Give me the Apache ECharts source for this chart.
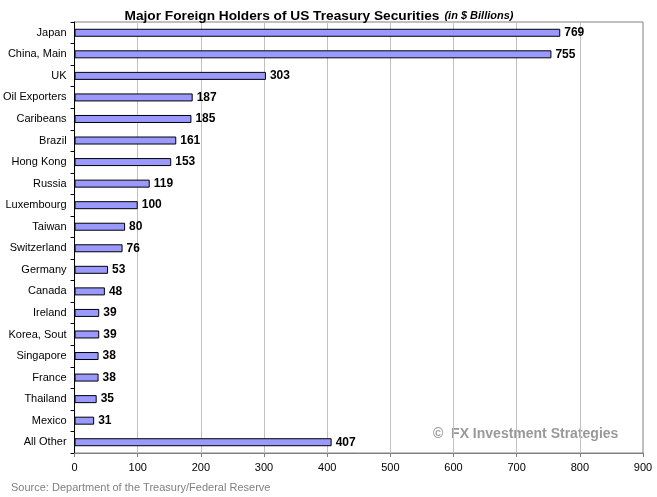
<!DOCTYPE html>
<html>
<head>
<meta charset="utf-8">
<script src="https://cdn.jsdelivr.net/npm/echarts@6/dist/echarts.min.js"></script>
<style>
  html, body { margin: 0; padding: 0; background: #fff; }
  #chart { width: 657px; height: 497px; }
</style>
</head>
<body>
<div id="chart"></div>
<script>
  // holders, top to bottom
  var countries = ['Japan', 'China, Main', 'UK', 'Oil Exporters', 'Caribeans', 'Brazil', 'Hong Kong',
    'Russia', 'Luxembourg', 'Taiwan', 'Switzerland', 'Germany', 'Canada', 'Ireland', 'Korea, Sout',
    'Singapore', 'France', 'Thailand', 'Mexico', 'All Other']
  var holdings = [769, 755, 303, 187, 185, 161, 153, 119, 100, 80, 76, 53, 48, 39, 39, 38, 38, 35, 31, 407]
  var xTicks = [0, 100, 200, 300, 400, 500, 600, 700, 800, 900]

  var chart = echarts.init(document.getElementById('chart'), null, {renderer: 'canvas'})
  var option = {
    backgroundColor: '#fff',
    animation: false,
    title: {
      text: '{b|Major Foreign Holders of US Treasury Securities} {i|(in $ Billions)}',
      left: 314,
      top: 2,
      textAlign: 'center',
      textStyle: {
        rich: {
          b: {fontFamily: 'Liberation Sans Narrow, Arial Narrow, Liberation Sans', fontWeight: 'bold', fontSize: 13.7, color: '#000'},
          i: {fontFamily: 'Liberation Sans', fontStyle: 'italic', fontSize: 11, color: '#000'}
        }
      }
    },
    graphic: [
      {
        type: 'text', left: 11, top: 482,
        style: {text: 'Source: Department of the Treasury/Federal Reserve', fill: '#808080', font: '11px Liberation Sans'}
      },
      {
        type: 'text', left: 433, top: 427,
        style: {text: '©  FX Investment Strategies', fill: '#999999', font: 'bold 14px Liberation Sans'}
      }
    ],
    grid: {
      left: 74, right: 14, top: 22, bottom: 44,
      show: true, borderColor: '#808080', borderWidth: 1
    },
    xAxis: {
      type: 'value',
      min: 0, max: 900, interval: 100,
      axisLine: {show: true, lineStyle: {color: '#808080'}},
      axisTick: {show: true, length: 4, lineStyle: {color: '#808080'}},
      axisLabel: {
        color: '#000', fontSize: 11, fontFamily: 'Liberation Sans', margin: 9,
        formatter: function (v) { return xTicks.indexOf(v) >= 0 ? String(v) : '' }
      },
      splitLine: {show: true, lineStyle: {color: '#C0C0C0'}}
    },
    yAxis: {
      type: 'category',
      data: countries,
      inverse: true,
      axisLine: {show: true, lineStyle: {color: '#000'}},
      axisTick: {show: true, length: 4, lineStyle: {color: '#000'}},
      axisLabel: {color: '#000', fontSize: 11, fontFamily: 'Liberation Sans', margin: 8},
      splitLine: {show: false}
    },
    series: [
      {
        type: 'bar',
        data: holdings,
        barWidth: 8,
        itemStyle: {color: '#9999FF', borderColor: '#000', borderWidth: 1},
        label: {
          show: true, position: 'right', distance: 4,
          color: '#000', fontWeight: 'bold', fontSize: 12, fontFamily: 'Liberation Sans'
        }
      }
    ]
  }
  chart.setOption(option)
</script>
</body>
</html>
